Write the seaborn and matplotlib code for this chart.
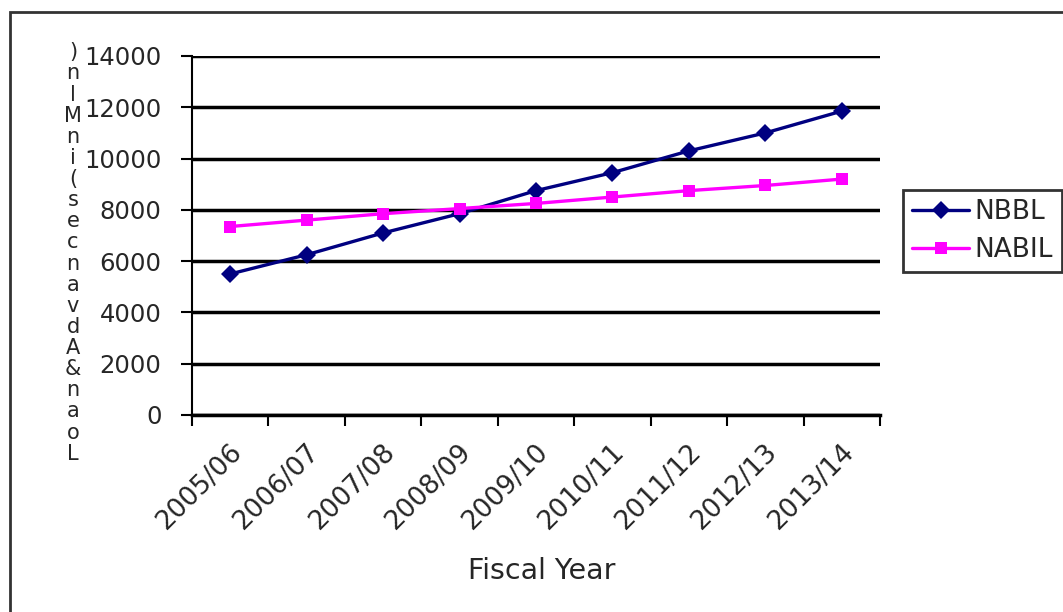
import pandas as pd
import seaborn as sns
import matplotlib.pyplot as plt
import matplotlib.transforms as mtransforms
import numpy as np
from matplotlib.patches import Rectangle

years = ['2005/06', '2006/07', '2007/08', '2008/09', '2009/10',
         '2010/11', '2011/12', '2012/13', '2013/14']
nbbl = [5500, 6250, 7100, 7850, 8750, 9450, 10300, 11000, 11850]
nabil = [7350, 7600, 7850, 8050, 8250, 8500, 8750, 8950, 9200]
y_ticks = [0, 2000, 4000, 6000, 8000, 10000, 12000, 14000]
y_label = 'Loan & Advances (in Mln)'

df = pd.DataFrame({
    'Fiscal Year': years * 2,
    'Value': nbbl + nabil,
    'Bank': ['NBBL'] * len(years) + ['NABIL'] * len(years),
})

sns.set_style('white')
plt.rcParams['font.family'] = ['DejaVu Sans']

fig = plt.figure(figsize=(10.63, 6.12), dpi=100)
ax = fig.add_axes([0.1806, 0.3219, 0.6472, 0.5866])

sns.lineplot(
    data=df,
    x='Fiscal Year',
    y='Value',
    hue='Bank',
    style='Bank',
    palette={'NBBL': '#000080', 'NABIL': '#ff00ff'},
    markers={'NBBL': 'D', 'NABIL': 's'},
    dashes=False,
    sort=False,
    linewidth=2.4,
    markersize=9,
    markeredgewidth=0,
    ax=ax,
)

# Excel-like axes
ax.set_ylim(0, 14000)
ax.set_yticks(y_ticks)
ax.set_yticklabels([str(v) for v in y_ticks])
ax.grid(axis='y', color='black', linewidth=2.5)
ax.grid(axis='x', visible=False)
ax.set_axisbelow(True)
for side in ['top', 'right']:
    ax.spines[side].set_visible(False)
ax.spines['left'].set_color('black')
ax.spines['left'].set_linewidth(1.5)
ax.spines['bottom'].set_color('black')
ax.spines['bottom'].set_linewidth(2.5)

ax.set_xlim(-0.5, len(years) - 0.5)
ax.set_xticks(np.arange(-0.5, len(years), 1))
ax.set_xticklabels([])
ax.set_xticks(np.arange(len(years)), minor=True)
ax.set_xticklabels(years, minor=True, rotation=45, ha='right',
                   rotation_mode='anchor', va='center')
ax.tick_params(axis='x', which='major', direction='out', length=8, width=1.5,
               color='black', bottom=True)
ax.tick_params(axis='x', which='minor', length=0, labelsize=19, pad=24)
ax.tick_params(axis='y', direction='out', length=8, width=1.5, color='black',
               labelsize=17.5, pad=14, left=True)
shift = mtransforms.ScaledTranslation(8 / 100, 0, fig.dpi_scale_trans)
for lab in ax.get_xticklabels(minor=True):
    lab.set_transform(lab.get_transform() + shift)
ax.set_xlabel('')
ax.set_ylabel('')

fig.text(542 / 1063, 1 - 571 / 612, 'Fiscal Year', ha='center', va='center',
         fontsize=20.5)

# stacked y label
chars = [c for c in y_label if c != ' ']
fig.text(73 / 1063, 1 - 253 / 612, '\n'.join(reversed(chars)), ha='center',
         va='center', fontsize=15, linespacing=1.07)

handles, labels = ax.get_legend_handles_labels()
leg = ax.legend(handles, labels, loc='upper left',
                bbox_to_anchor=(903 / 1063, 1 - 190 / 612),
                bbox_transform=fig.transFigure, frameon=True, fancybox=False,
                fontsize=19, handlelength=2.15, borderaxespad=0,
                borderpad=0.35, labelspacing=0.45, handletextpad=0.2)
leg.get_frame().set_edgecolor('black')
leg.get_frame().set_linewidth(2)

# outer chart border
fig.add_artist(Rectangle((10 / 1063, -0.1), 2, 1 - 12 / 612 + 0.1,
                         transform=fig.transFigure, fill=False,
                         edgecolor='#333333', linewidth=2))

plt.savefig('out.png', dpi=100)
plt.close()
